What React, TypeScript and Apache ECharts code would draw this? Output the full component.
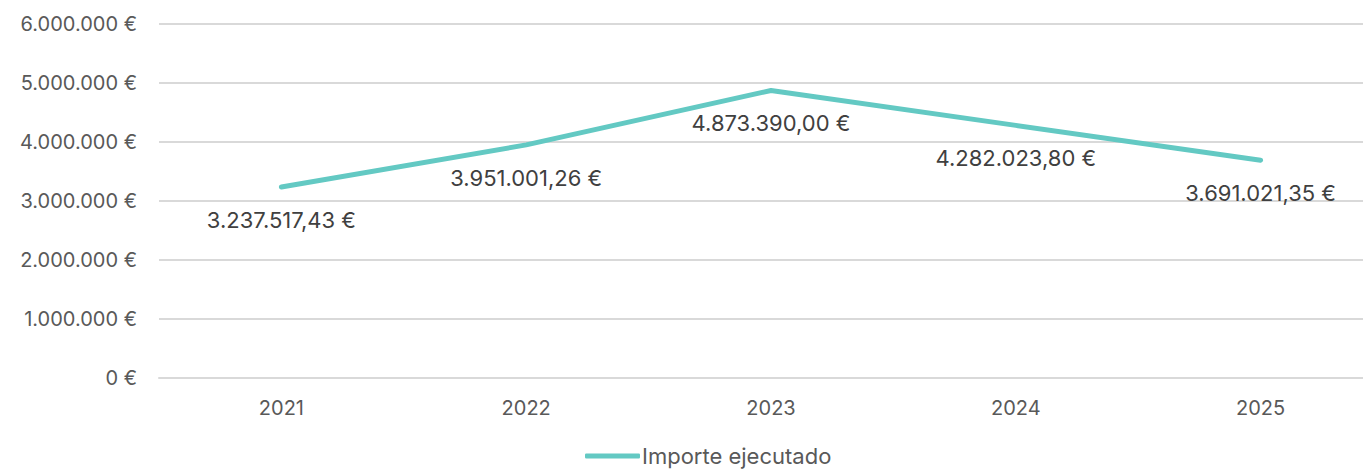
import React, { useEffect, useRef } from "react";
import * as echarts from "echarts";

const categories = ["2021", "2022", "2023", "2024", "2025"];
const importeEjecutado = [3237517.43, 3951001.26, 4873390.0, 4282023.8, 3691021.35];
const seriesName = "Importe ejecutado";

function fmtThousands(n: number): string {
  const s = Math.floor(Math.abs(n)).toString();
  return s.replace(/\B(?=(\d{3})+(?!\d))/g, ".");
}
function fmtAxis(v: number): string {
  return fmtThousands(v) + " €";
}
function fmtLabel(v: number): string {
  const cents = Math.round(v * 100) % 100;
  return fmtThousands(v) + "," + (cents < 10 ? "0" : "") + cents + " €";
}

const FONT = "Inter, 'Noto Sans', sans-serif";
const LINE_COLOR = "#63c9c3";

export default function App() {
  const ref = useRef<HTMLDivElement>(null);
  useEffect(() => {
    if (!ref.current) return;
    const chart = echarts.init(ref.current, undefined, { renderer: "svg" });
    chart.setOption({
      animation: false,
      textStyle: { fontFamily: FONT },
      grid: { left: 159, right: 0, top: 24, bottom: 93, containLabel: false },
      xAxis: {
        type: "category",
        data: categories,
        boundaryGap: true,
        axisLine: { show: true, lineStyle: { color: "#d9d9d9", width: 2 } },
        axisTick: { show: false },
        axisLabel: { color: "#595959", fontSize: 20, margin: 20, fontFamily: FONT },
      },
      yAxis: {
        type: "value",
        min: 0,
        max: 6000000,
        interval: 1000000,
        axisLine: { show: false },
        axisTick: { show: false },
        splitLine: { lineStyle: { color: "#d9d9d9", width: 2 } },
        axisLabel: { color: "#595959", fontSize: 20, margin: 22, formatter: fmtAxis, fontFamily: FONT },
      },
      legend: {
        bottom: -1,
        left: 580,
        data: [
          {
            name: seriesName,
            icon: "roundRect",
            itemStyle: { color: LINE_COLOR, opacity: 1 },
          },
        ],
        itemWidth: 55,
        itemHeight: 5,
        textStyle: { color: "#595959", fontSize: 22, fontFamily: FONT, padding: [0, 0, 0, -3] },
      },
      series: [
        {
          name: seriesName,
          type: "line",
          data: importeEjecutado,
          showSymbol: true,
          symbol: "circle",
          symbolSize: 2,
          itemStyle: { color: "rgba(0,0,0,0)" },
          lineStyle: { color: LINE_COLOR, width: 5, cap: "round", join: "round" },
          label: {
            show: true,
            position: "bottom",
            distance: 21,
            color: "#404040",
            fontSize: 22,
            fontFamily: FONT,
            formatter: (p: any) => fmtLabel(p.value),
          },
        },
      ],
    });
    return () => chart.dispose();
  }, []);
  return (
    <div style={{ position: "absolute", left: 0, top: 0, width: 1363, height: 471, overflow: "hidden" }}>
      <div ref={ref} style={{ width: 1383, height: 471 }} />
    </div>
  );
}
